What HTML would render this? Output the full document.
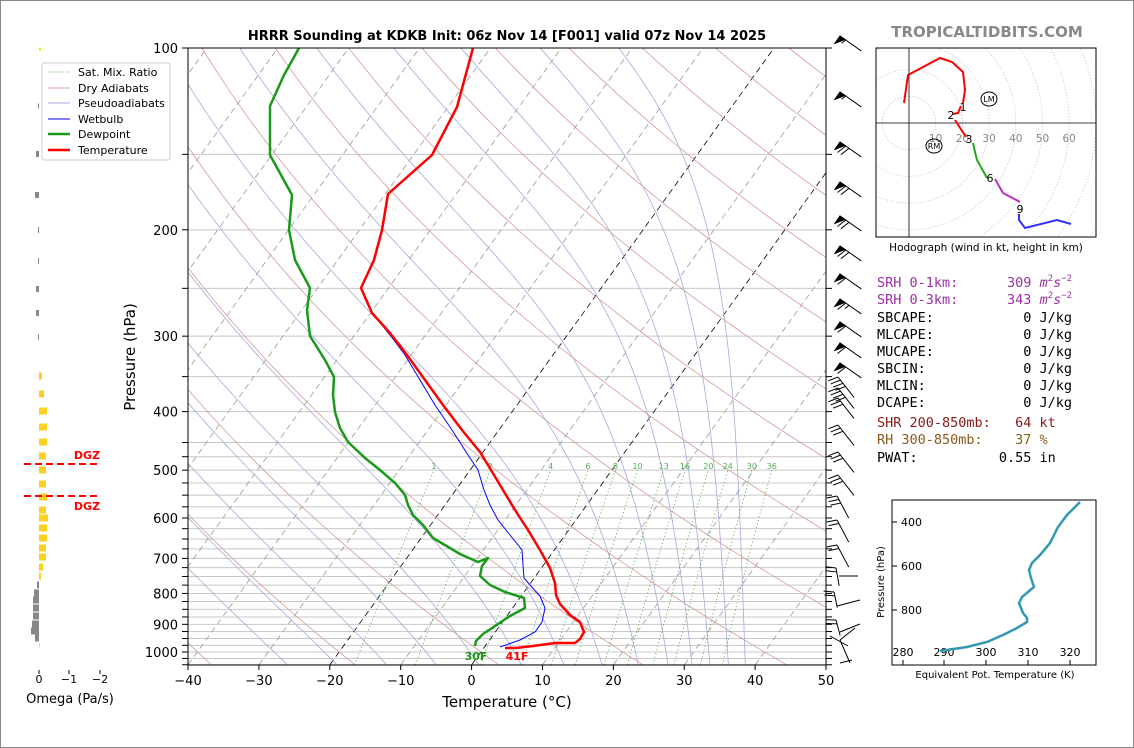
<!DOCTYPE html>
<html><head><meta charset="utf-8">
<style>
html,body{margin:0;padding:0;background:#fff;}
body{width:1134px;height:748px;overflow:hidden;}
svg{display:block;font-family:"DejaVu Sans","Liberation Sans",sans-serif;}
.mono text{white-space:pre;}
</style></head>
<body>
<svg id="s" width="1134" height="748" viewBox="0 0 1134 748" xmlns="http://www.w3.org/2000/svg">
<rect x="0.5" y="0.5" width="1133" height="747" fill="#fff" stroke="#888"/>
<defs><clipPath id="cp"><rect x="188" y="48" width="638" height="617"/></clipPath>
<clipPath id="hc"><rect x="876" y="48" width="220" height="189"/></clipPath></defs>
<g id="bg" clip-path="url(#cp)"></g>
<g id="fg" clip-path="url(#cp)"></g>
<g id="ax"></g>
<text x="507" y="40" font-size="13" font-weight="bold" text-anchor="middle">HRRR Sounding at KDKB Init: 06z Nov 14 [F001] valid 07z Nov 14 2025</text>
<text x="507" y="707" font-size="15" text-anchor="middle">Temperature (°C)</text>
<text transform="translate(135,357) rotate(-90)" font-size="15" text-anchor="middle">Pressure (hPa)</text>
<text x="476" y="660" font-size="11" font-weight="bold" fill="#1a9a1a" text-anchor="middle">30F</text>
<text x="517" y="660" font-size="11" font-weight="bold" fill="#f00" text-anchor="middle">41F</text>
<!-- legend -->
<g font-size="11">
<rect x="42" y="63" width="128" height="97" fill="#fff" stroke="#ccc" rx="2"/>
<line x1="48" y1="72" x2="70" y2="72" stroke="#2a2" stroke-dasharray="1,1.5" stroke-width="0.8"/><text x="78" y="76">Sat. Mix. Ratio</text>
<line x1="48" y1="88" x2="70" y2="88" stroke="#d9a0a0"/><text x="78" y="92">Dry Adiabats</text>
<line x1="48" y1="103" x2="70" y2="103" stroke="#a8a8e0"/><text x="78" y="107">Pseudoadiabats</text>
<line x1="48" y1="119" x2="70" y2="119" stroke="#00f"/><text x="78" y="123">Wetbulb</text>
<line x1="48" y1="134" x2="70" y2="134" stroke="#1a9a1a" stroke-width="2.5"/><text x="78" y="138">Dewpoint</text>
<line x1="48" y1="150" x2="70" y2="150" stroke="#f00" stroke-width="2.5"/><text x="78" y="154">Temperature</text>
</g>
<g id="om"></g>
<line x1="24" y1="464" x2="98" y2="464" stroke="#f00" stroke-width="2" stroke-dasharray="7,4"/>
<line x1="24" y1="496" x2="98" y2="496" stroke="#f00" stroke-width="2" stroke-dasharray="7,4"/>
<text x="87" y="459" font-size="11" font-weight="bold" fill="#f00" text-anchor="middle">DGZ</text>
<text x="87" y="510" font-size="11" font-weight="bold" fill="#f00" text-anchor="middle">DGZ</text>
<g font-size="11" text-anchor="middle"><line x1="39" y1="670" x2="39" y2="674" stroke="#000"/><line x1="69" y1="670" x2="69" y2="674" stroke="#000"/><line x1="100" y1="670" x2="100" y2="674" stroke="#000"/>
<text x="39" y="683">0</text><text x="69" y="683">−1</text><text x="100" y="683">−2</text></g>
<text x="70" y="703" font-size="13" text-anchor="middle">Omega (Pa/s)</text>
<g id="wb" stroke="#000" fill="#000" stroke-width="1"></g>
<!-- hodograph -->
<text x="987" y="37" font-size="15" font-weight="bold" fill="#888" text-anchor="middle">TROPICALTIDBITS.COM</text>
<g id="hod" clip-path="url(#hc)"></g>
<rect x="876" y="48" width="220" height="189" fill="none" stroke="#000"/>
<text x="986" y="251" font-size="10.5" text-anchor="middle">Hodograph (wind in kt, height in km)</text>
<g class="mono" font-family="'DejaVu Sans Mono','Liberation Mono',monospace" font-size="13.5">
<text x="877" y="287" fill="#9b30a0">SRH 0-1km:      309 <tspan font-style="italic">m</tspan><tspan font-size="9" dy="-6">2</tspan><tspan font-style="italic" dy="6">s</tspan><tspan font-size="9" dy="-6">−2</tspan></text>
<text x="877" y="304" fill="#9b30a0">SRH 0-3km:      343 <tspan font-style="italic">m</tspan><tspan font-size="9" dy="-6">2</tspan><tspan font-style="italic" dy="6">s</tspan><tspan font-size="9" dy="-6">−2</tspan></text>
<text x="877" y="322">SBCAPE:           0 J/kg</text>
<text x="877" y="339">MLCAPE:           0 J/kg</text>
<text x="877" y="356">MUCAPE:           0 J/kg</text>
<text x="877" y="373">SBCIN:            0 J/kg</text>
<text x="877" y="390">MLCIN:            0 J/kg</text>
<text x="877" y="407">DCAPE:            0 J/kg</text>
<text x="877" y="427" fill="#8b1a1a">SHR 200-850mb:   64 kt</text>
<text x="877" y="444" fill="#8b5a1a">RH 300-850mb:    37 %</text>
<text x="877" y="462">PWAT:          0.55 in</text>
</g>
<!-- theta-e -->
<rect x="892" y="500" width="204" height="165" fill="none" stroke="#000"/>
<g font-size="11" text-anchor="end"><text x="922" y="526">400</text><text x="922" y="570">600</text><text x="922" y="614">800</text></g>
<g stroke="#000"><line x1="892" y1="522" x2="897" y2="522"/><line x1="892" y1="566" x2="897" y2="566"/><line x1="892" y1="610" x2="897" y2="610"/>
<line x1="903" y1="665" x2="903" y2="660"/><line x1="944" y1="665" x2="944" y2="660"/><line x1="986" y1="665" x2="986" y2="660"/><line x1="1028" y1="665" x2="1028" y2="660"/><line x1="1070" y1="665" x2="1070" y2="660"/></g>
<g font-size="11" text-anchor="middle"><text x="903" y="656">280</text><text x="944" y="656">290</text><text x="986" y="656">300</text><text x="1028" y="656">310</text><text x="1070" y="656">320</text></g>
<polyline fill="none" stroke="#3399b0" stroke-width="2.5" points="1080,502 1067,515 1058,527 1050,543 1040,555 1032,563 1029,570 1031,578 1034,587 1028,592 1022,597 1019,603 1023,613 1027,618 1027,622 1017,628 1003,635 987,642 967,647 940,651"/>
<text transform="translate(884,582) rotate(-90)" font-size="10" text-anchor="middle">Pressure (hPa)</text>
<text x="995" y="678" font-size="10" text-anchor="middle">Equivalent Pot. Temperature (K)</text>
</svg>
<script>
var NS="http://www.w3.org/2000/svg";
function el(p,t,a,txt){var e=document.createElementNS(NS,t);for(var k in a)e.setAttribute(k,a[k]);if(txt!=null)e.textContent=txt;p.appendChild(e);return e;}
function Y(p){return 48+262.3*Math.log(p/100);}
function X(T,p){return 188+(T+40)*7.089+0.72*(665-Y(p));}
var bg=document.getElementById('bg'),fg=document.getElementById('fg'),ax=document.getElementById('ax');
var pl=[];for(var p=100;p<=450;p+=50)pl.push(p);for(p=475;p<=1050;p+=25)pl.push(p);
pl.forEach(function(p){el(bg,'line',{x1:188,x2:826,y1:Y(p),y2:Y(p),stroke:'#c8c8c8','stroke-width':1});});
for(var T=-120;T<=50;T+=10){var c=(T==0||T==-20)?'#000':'#999';
el(bg,'line',{x1:X(T,1050),y1:Y(1050),x2:X(T,100),y2:Y(100),stroke:c,'stroke-width':0.8,'stroke-dasharray':'6,4'});}
function pts(f,p0,p1,n){var s=[];for(var i=0;i<=n;i++){var lp=Math.log(p0)+(Math.log(p1)-Math.log(p0))*i/n;var p=Math.exp(lp);var t=f(p);if(t==null)break;s.push(X(t,p).toFixed(1)+','+Y(p).toFixed(1));}return s.join(' ');}
for(var thc=-60;thc<=240;thc+=20){(function(th){el(bg,'polyline',{points:pts(function(p){return th*Math.pow(p/1000,0.286)-273.15;},1050,100,40),fill:'none',stroke:'#d49a9a','stroke-width':0.8});})(thc+273.15);}
function es(t){return 6.112*Math.exp(17.67*t/(t+243.5));}
[-26,-19,-12,-5,1,7,13,18.4,23.5,27.7,31.1,33.6,36.2,38.6].forEach(function(t0){var s=[];var TT=t0+273.15;var lp=Math.log(1050);var n=200;var d=(Math.log(100)-lp)/n;
for(var i=0;i<=n;i++){var p=Math.exp(lp);s.push(X(TT-273.15,p).toFixed(1)+','+Y(p).toFixed(1));
var tc=TT-273.15;var e=es(tc);var rs=0.622*e/(p-e);var g=(287*TT+2.5e6*rs)/(1005+2.5e6*2.5e6*rs*0.622/(287*TT*TT));TT+=g*d;lp+=d;}
el(bg,'polyline',{points:s.join(' '),fill:'none',stroke:'#a8a8dc','stroke-width':0.8});});
[1,2,4,6,8,10,13,16,20,24,30,36].forEach(function(w){var f=function(p){var e=w*p/(622+w);var l=Math.log(e/6.112);return 243.5*l/(17.67-l);};
el(bg,'polyline',{points:pts(f,1050,500,20),fill:'none',stroke:'#4a4','stroke-width':0.8,'stroke-dasharray':'1.2,2.5'});
var xl=X(f(500),500);if(xl<820)el(bg,'text',{x:xl,y:469,'font-size':8,fill:'#5a5','text-anchor':'middle'},w);});
el(fg,'polyline',{fill:'none',stroke:'#00f','stroke-width':1,points:"473,48 457,107 432,155 388,194 382,230 374,260 361,288 372,313 390,335 405,355 420,380 435,405 452,430 468,455 478,470 484,490 490,505 498,520 510,535 522,550 523,565 524,578 530,585 540,596 545,608 542,622 535,632 520,640 500,647"});
el(fg,'polyline',{fill:'none',stroke:'#1a9a1a','stroke-width':2.5,'stroke-linejoin':'round',points:"299,48 284,75 270,106 270,155 292,195 289,230 295,260 310,288 307,310 310,336 325,360 334,377 333,395 335,412 340,428 348,442 365,458 380,470 395,483 405,495 408,505 413,515 423,525 433,538 460,554 478,562 488,558 482,566 480,576 490,585 505,592 524,598 525,608 510,616 495,626 483,634 476,641 475,646"});
el(fg,'polyline',{fill:'none',stroke:'#f00','stroke-width':2.5,'stroke-linejoin':'round',points:"473,48 457,107 432,155 388,194 382,230 374,260 361,288 372,313 390,333 407,355 425,380 443,405 462,430 480,452 491,470 503,490 515,510 528,530 540,550 550,568 555,583 556,595 560,604 570,615 580,622 584,632 580,639 575,643 555,643 533,646 516,648 505,648"});
el(ax,'rect',{x:188,y:48,width:638,height:617,fill:'none',stroke:'#000','stroke-width':1});
pl.forEach(function(p){var y=Y(p);el(ax,'line',{x1:182,x2:188,y1:y,y2:y,stroke:'#000'});el(ax,'line',{x1:826,x2:832,y1:y,y2:y,stroke:'#000'});
if(p%100==0)el(ax,'text',{x:178,y:y+5,'font-size':13,'text-anchor':'end'},p);});
for(var t=-40;t<=50;t+=10){var x=188+(t+40)*7.089;el(ax,'line',{x1:x,x2:x,y1:665,y2:670,stroke:'#000'});el(ax,'text',{x:x,y:685,'font-size':13,'text-anchor':'middle'},(t<0?'−':'')+Math.abs(t));}
var om=document.getElementById('om');
function bar(y,w,c,h){h=h||6;if(w>=0)el(om,'rect',{x:39,y:y-h/2,width:w,height:h,fill:c});else el(om,'rect',{x:39+w,y:y-h/2,width:-w,height:h,fill:c});}
bar(49,2,'#ee0',3);bar(106,-1,'#888',5);bar(154,-3,'#888',6);bar(195,-4,'#888',6);bar(230,-1,'#888',6);bar(261,-1,'#888',6);bar(289,-3,'#888',6);bar(313,-3,'#888',6);bar(337,-1,'#888',6);
[[376,3],[394,5],[411,8],[427,8],[442,8],[456,7],[470,7],[484,7],[497,8],[510,7],[518,9],[528,8],[538,8],[548,7],[557,7],[567,4],[576,2]].forEach(function(a){bar(a[0],a[1],'#fcd020',7);});
[[585,-2],[593,-5],[600,-6],[608,-6],[616,-6],[624,-7],[631,-8],[638,-4]].forEach(function(a){bar(a[0],a[1],'#888',7);});
bar(645,1,'#ee0',4);
var wb=document.getElementById('wb');
function barb(x,y,ang,np,nl,half,L){L=L||30;var r=ang*Math.PI/180;var dx=Math.cos(r),dy=Math.sin(r);var ex=x+dx*L,ey=y+dy*L;
el(wb,'line',{x1:x,y1:y,x2:ex,y2:ey});var nx=-dy,ny=dx;if(nx>0){nx=-nx;ny=-ny;}var pos=0;
for(var i=0;i<np;i++){var ax1=x+dx*pos,ay1=y+dy*pos,bx=x+dx*(pos+6),by=y+dy*(pos+6);el(wb,'polygon',{points:ax1+','+ay1+' '+bx+','+by+' '+(ax1+nx*9)+','+(ay1+ny*9)});pos+=7;}
for(i=0;i<nl;i++){var px=x+dx*pos,py=y+dy*pos;el(wb,'line',{x1:px,y1:py,x2:px+nx*10-dx*3,y2:py+ny*10-dy*3});pos+=4;}
if(half){var px=x+dx*pos,py=y+dy*pos;el(wb,'line',{x1:px,y1:py,x2:px+nx*5-dx*1.5,y2:py+ny*5-dy*1.5});}}
[[36,0,1],[92,0,1],[142,2,0],[182,2,0],[216,2,0],[246,2,0],[274,1,0],[299,1,1],[322,1,0],[343,1,0],[363,1,0]].forEach(function(a){barb(840,a[0],35,1,a[1],a[2],26);});
[[377,4],[388,4],[398,3],[425,3],[452,3],[475,3]].forEach(function(a){barb(838,a[0],52,0,a[1],0,26);});
[[496,3],[520,2],[545,2]].forEach(function(a){barb(837,a[0],62,0,a[1],0,25);});
barb(836,568,80,0,2,0,18);el(wb,'line',{x1:839,y1:576,x2:858,y2:576});
barb(834,592,78,0,2,0,16);el(wb,'line',{x1:837,y1:606,x2:860,y2:600});
barb(836,620,75,0,2,0,16);el(wb,'line',{x1:840,y1:632,x2:860,y2:624});
el(wb,'line',{x1:830,y1:636,x2:848,y2:646});el(wb,'line',{x1:840,y1:640,x2:855,y2:628});el(wb,'line',{x1:840,y1:640,x2:850,y2:663});el(wb,'line',{x1:840,y1:663,x2:852,y2:660});
var hd=document.getElementById('hod');var ox=909,oy=123,k=2.67;
for(var r=1;r<=9;r++)el(hd,'circle',{cx:ox,cy:oy,r:r*10*k,fill:'none',stroke:'#bbb','stroke-dasharray':'1,2','stroke-width':0.8});
el(hd,'line',{x1:876,x2:1096,y1:oy,y2:oy,stroke:'#000','stroke-width':0.8});el(hd,'line',{x1:ox,x2:ox,y1:48,y2:237,stroke:'#000','stroke-width':0.8});
[10,20,30,40,50,60].forEach(function(v){el(hd,'text',{x:ox+v*k,y:142,'font-size':10.5,fill:'#888','text-anchor':'middle'},v);});
function hl(c,p){el(hd,'polyline',{points:p,fill:'none',stroke:c,'stroke-width':2});}
hl('#f00',"904,103 908,75 940,58 952,62 963,72 965,90 963,103");hl('#f00',"961,106 958,113 953,114");hl('#f00',"955,120 966,137");
hl('#2a2',"973,143 975,152 977,160 987,178");hl('#b3b',"995,179 1003,193 1020,202");hl('#33f',"1019,214 1019,220 1025,228 1057,220 1071,224");
[[963,111,'1'],[951,119,'2'],[969,143,'3'],[990,182,'6'],[1020,213,'9']].forEach(function(a){el(hd,'text',{x:a[0],y:a[1],'font-size':11,'text-anchor':'middle'},a[2]);});
el(hd,'ellipse',{cx:989,cy:99,rx:8,ry:7,fill:'none',stroke:'#000'});el(hd,'text',{x:989,y:102,'font-size':8,'text-anchor':'middle'},'LM');
el(hd,'ellipse',{cx:934,cy:146,rx:8,ry:7,fill:'none',stroke:'#000'});el(hd,'text',{x:934,y:149,'font-size':8,'text-anchor':'middle'},'RM');
</script>
</body></html>
